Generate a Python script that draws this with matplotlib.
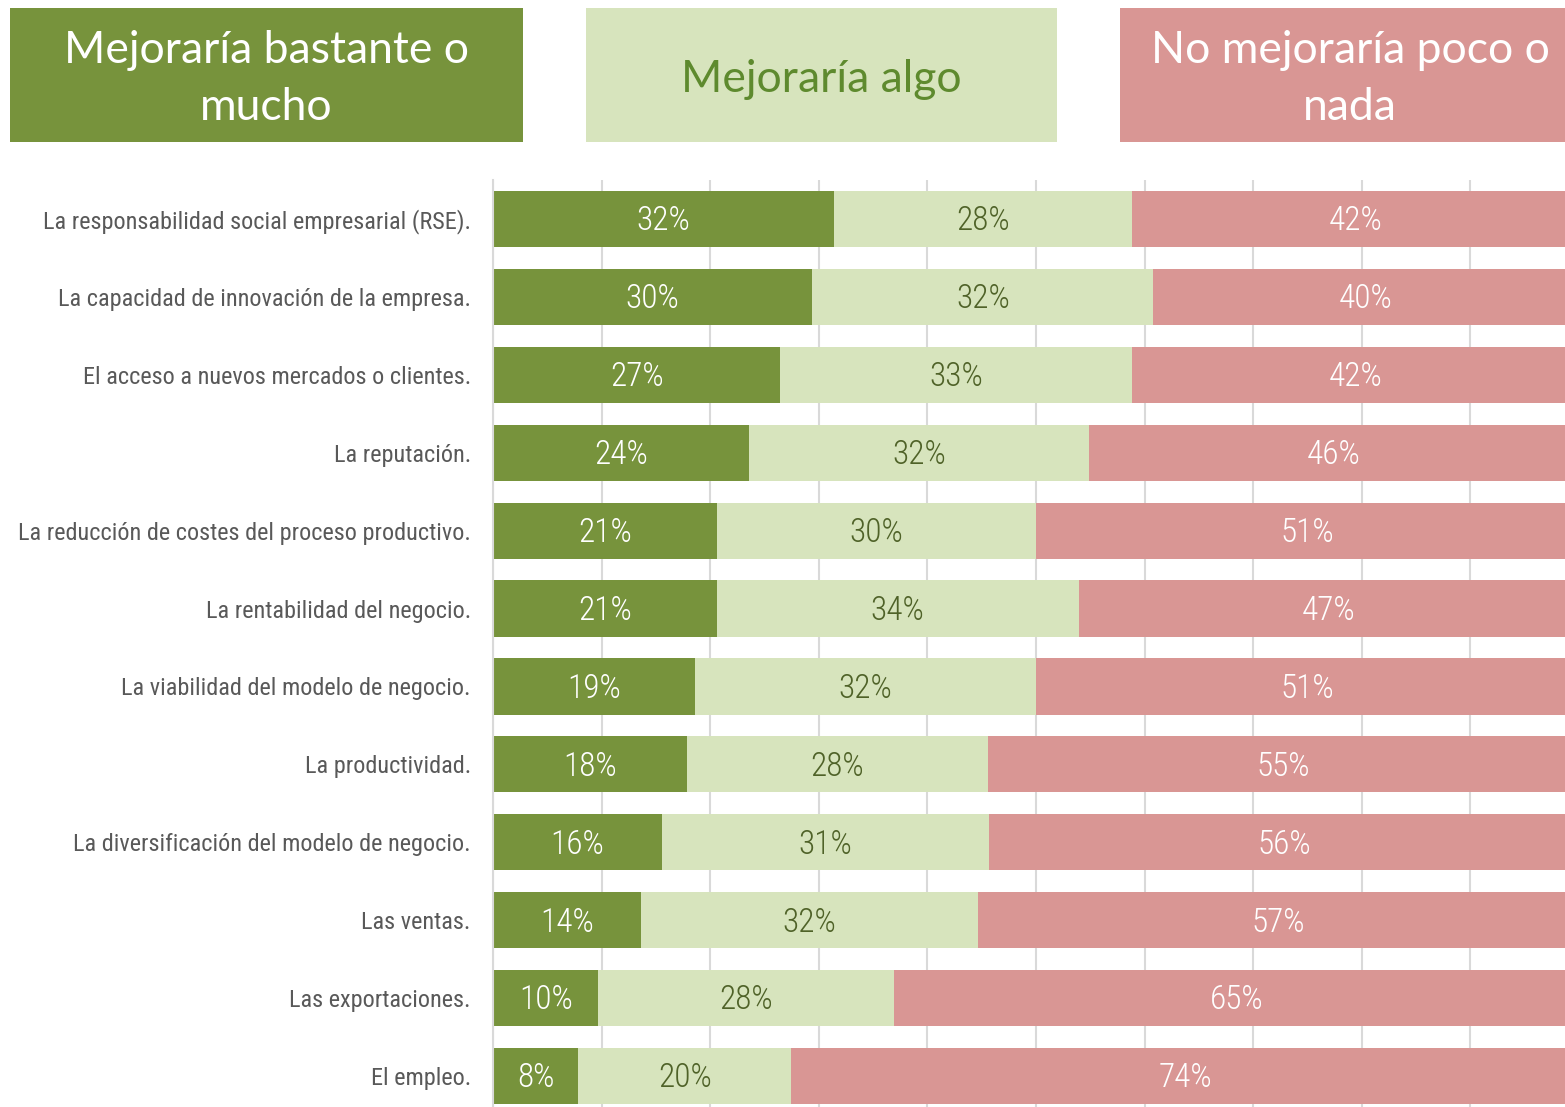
import matplotlib.pyplot as plt
import numpy as np
from matplotlib.patches import Rectangle

categories = [
    "La responsabilidad social empresarial (RSE).",
    "La capacidad de innovación de la empresa.",
    "El acceso a nuevos mercados o clientes.",
    "La reputación.",
    "La reducción de costes del proceso productivo.",
    "La rentabilidad del negocio.",
    "La viabilidad del modelo de negocio.",
    "La productividad.",
    "La diversificación del modelo de negocio.",
    "Las ventas.",
    "Las exportaciones.",
    "El empleo.",
]
mucho = [32, 30, 27, 24, 21, 21, 19, 18, 16, 14, 10, 8]
algo = [28, 32, 33, 32, 30, 34, 32, 28, 31, 32, 28, 20]
nada = [42, 40, 42, 46, 51, 47, 51, 55, 56, 57, 65, 74]
headers = ["Mejoraría bastante o\nmucho", "Mejoraría algo", "No mejoraría poco o\nnada"]

C_DARK = "#77933C"
C_LIGHT = "#D7E4BD"
C_PINK = "#D99694"
TXT_DARK = "#4F6228"
LABEL_FONT = ["Roboto Condensed", "DejaVu Sans Condensed", "Roboto", "DejaVu Sans"]
HEAD_FONT = ["Lato", "Open Sans", "DejaVu Sans"]

W, H = 1565, 1107
fig = plt.figure(figsize=(W / 100, H / 100), dpi=100)

# axes placed in pixel terms, right edge runs past the figure like the original
left, right, top, bottom = 493, 1579, 180, 1115
ax = fig.add_axes([left / W, 1 - bottom / H, (right - left) / W, (bottom - top) / H])

vals = np.array([mucho, algo, nada], dtype=float)
shares = vals / vals.sum(axis=0)
y = np.arange(len(categories))
height = 0.72

starts = np.zeros(len(categories))
colors = [C_DARK, C_LIGHT, C_PINK]
txt_colors = ["white", TXT_DARK, "white"]
for i in range(3):
    ax.barh(y, shares[i], left=starts, height=height, color=colors[i], zorder=2)
    for j in range(len(categories)):
        ax.text(starts[j] + shares[i][j] / 2, y[j] + 0.03, f"{int(vals[i][j])}%",
                ha="center", va="center", color=txt_colors[i],
                fontsize=24, family=LABEL_FONT, weight="light", zorder=3)
    starts = starts + shares[i]

ax.set_xlim(0, 1)
ax.set_ylim(len(categories) - 0.5, -0.5)
ax.set_xticks(np.arange(0, 1.01, 0.1))
ax.xaxis.grid(True, color="#D9D9D9", linewidth=1.5, zorder=0)
ax.set_axisbelow(True)
ax.tick_params(axis="x", length=0, labelbottom=False)
ax.tick_params(axis="y", length=0, pad=16)
ax.set_yticks(y)
ax.set_yticklabels(categories, fontsize=17.5, color="#595959", family=LABEL_FONT)
for s in ["top", "right", "bottom"]:
    ax.spines[s].set_visible(False)
ax.spines["left"].set_color("#D9D9D9")
ax.spines["left"].set_linewidth(1.5)

# header boxes
boxes = [(10, 523, C_DARK, "white"), (586, 1057, C_LIGHT, "#5E8A2E"), (1120, 1580, C_PINK, "white")]
y0, y1 = 8, 142
for (x0, x1, fc, tc), label in zip(boxes, headers):
    fig.patches.append(Rectangle((x0 / W, 1 - y1 / H), (x1 - x0) / W, (y1 - y0) / H,
                                 transform=fig.transFigure, facecolor=fc, edgecolor="none"))
    cx = (x0 + x1) / 2
    fig.text(cx / W, 1 - ((y0 + y1) / 2 + 4) / H, label, ha="center", va="center",
             color=tc, fontsize=32, family=HEAD_FONT, linespacing=1.5)

fig.savefig("out.png", dpi=100)
